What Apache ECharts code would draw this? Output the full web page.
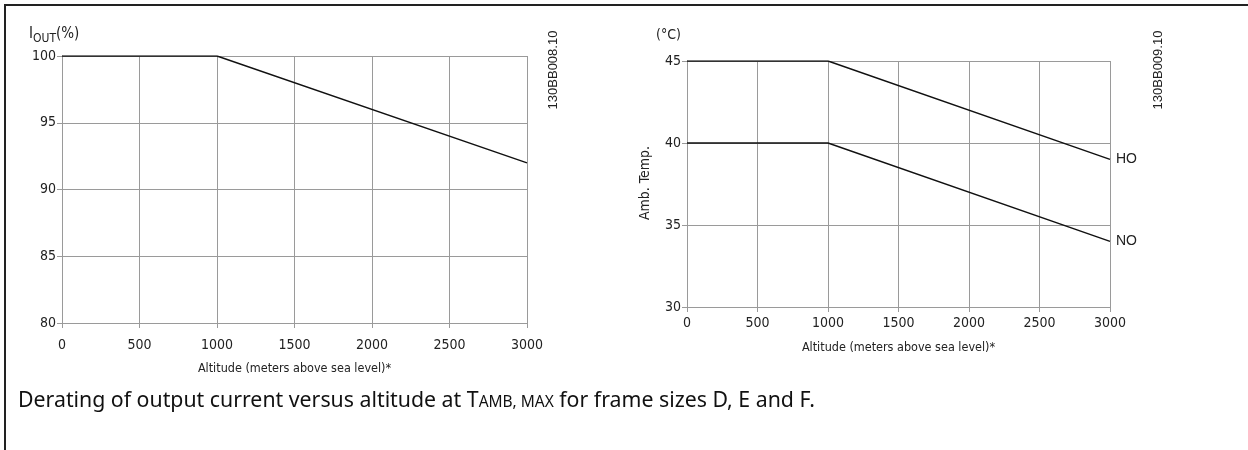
<!DOCTYPE html>
<html>
<head>
<meta charset="utf-8">
<script src="https://cdn.jsdelivr.net/npm/echarts@6/dist/echarts.min.js"></script>
<style>
  html, body { margin: 0; padding: 0; background: #fff; }
  #chart { width: 1248px; height: 450px; }
</style>
</head>
<body>
<div id="chart"></div>
<script>
// data
const altitude = [0, 1000, 3000]
const currentPct = [100, 100, 92]
const tempHO = [45, 45, 39]
const tempNO = [40, 40, 34]

const tickFont = "'DejaVu Sans Condensed', 'Liberation Sans Narrow', sans-serif"
const plainFont = "'Liberation Sans', Arial, sans-serif"
const gridGrey = '#9a9a9a'

const toPairs = (xs, ys) => xs.map((x, i) => [x, ys[i]])

const xAxisBase = (gridIndex, labelMargin, nameGap) => ({
  type: 'value',
  gridIndex,
  min: 0,
  max: 3000,
  interval: 500,
  name: 'Altitude (meters above sea level)*',
  nameLocation: 'middle',
  nameGap,
  nameTextStyle: { color: '#222', fontSize: 12.5, fontFamily: tickFont },
  axisLine: { show: true, lineStyle: { color: gridGrey, width: 1 } },
  axisTick: { show: true, length: 5, lineStyle: { color: gridGrey } },
  axisLabel: { color: '#222', fontSize: 14, fontFamily: tickFont, margin: labelMargin, formatter: v => String(v) },
  splitLine: { show: true, lineStyle: { color: gridGrey, width: 1 } }
})

const yAxisBase = (gridIndex, min, max) => ({
  type: 'value',
  gridIndex,
  min,
  max,
  interval: 5,
  axisLine: { show: true, lineStyle: { color: gridGrey, width: 1 } },
  axisTick: { show: true, length: 5, lineStyle: { color: gridGrey } },
  axisLabel: { color: '#222', fontSize: 14, fontFamily: tickFont, margin: 6 },
  splitLine: { show: true, lineStyle: { color: gridGrey, width: 1 } }
})

const lineSeries = (name, xIdx, yIdx, data, endLabel) => ({
  name,
  type: 'line',
  xAxisIndex: xIdx,
  yAxisIndex: yIdx,
  data,
  symbol: 'none',
  silent: true,
  lineStyle: { color: '#111', width: 1.4 },
  endLabel: endLabel ? {
    show: true,
    formatter: '{a}',
    color: '#222',
    fontSize: 14,
    fontFamily: plainFont,
    distance: 6
  } : { show: false },
  z: 5
})

const myChart = echarts.init(document.getElementById('chart'))
const option = {
  animation: false,
  backgroundColor: '#fff',
  grid: [
    { left: 62, right: 721, top: 56, bottom: 127 },
    { left: 687, right: 138, top: 61, bottom: 143 }
  ],
  xAxis: [xAxisBase(0, 15, 39), xAxisBase(1, 9, 34)],
  yAxis: [yAxisBase(0, 80, 100), yAxisBase(1, 30, 45)],
  series: [
    lineSeries('Iout', 0, 0, toPairs(altitude, currentPct), false),
    lineSeries('HO', 1, 1, toPairs(altitude, tempHO), true),
    lineSeries('NO', 1, 1, toPairs(altitude, tempNO), true)
  ],
  graphic: [
    // frame
    { type: 'line', shape: { x1: 4, y1: 5, x2: 1248, y2: 5 }, style: { stroke: '#222', lineWidth: 2 } },
    { type: 'line', shape: { x1: 5, y1: 4, x2: 5, y2: 450 }, style: { stroke: '#222', lineWidth: 2 } },
    // left y-axis title I_OUT(%)
    {
      type: 'text', left: 29, top: 27,
      style: {
        text: '{b|I}{s|OUT}{b|(%)}',
        rich: {
          b: { fontSize: 15, fontFamily: tickFont, fill: '#222', verticalAlign: 'bottom' },
          s: { fontSize: 12, fontFamily: tickFont, fill: '#222', verticalAlign: 'bottom', padding: [0, 0, -3, 0] }
        }
      }
    },
    // right y-axis unit and title
    { type: 'text', left: 656, top: 28, style: { text: '(°C)', fontSize: 14, fontFamily: tickFont, fill: '#222' } },
    {
      type: 'text', x: 645, y: 183, rotation: Math.PI / 2,
      style: { text: 'Amb. Temp.', fontSize: 14, fontFamily: tickFont, fill: '#222', align: 'center', verticalAlign: 'middle' }
    },
    // drawing codes
    {
      type: 'text', x: 553, y: 70, rotation: Math.PI / 2,
      style: { text: '130BB008.10', fontSize: 13, fontFamily: plainFont, fill: '#222', align: 'center', verticalAlign: 'middle' }
    },
    {
      type: 'text', x: 1158, y: 70, rotation: Math.PI / 2,
      style: { text: '130BB009.10', fontSize: 13, fontFamily: plainFont, fill: '#222', align: 'center', verticalAlign: 'middle' }
    },
    // caption
    {
      type: 'text', left: 18, top: 390,
      style: {
        text: '{n|Derating of output current versus altitude at T}{c|AMB, MAX}{n| for frame sizes D, E and F.}',
        rich: {
          n: { fontSize: 21.3, fontFamily: "'Noto Sans', 'Open Sans', sans-serif", fill: '#111', verticalAlign: 'bottom' },
          c: { fontSize: 15.5, fontFamily: "'Noto Sans', 'Open Sans', sans-serif", fill: '#111', verticalAlign: 'bottom' }
        }
      }
    }
  ]
}
option && myChart.setOption(option)
</script>
</body>
</html>
